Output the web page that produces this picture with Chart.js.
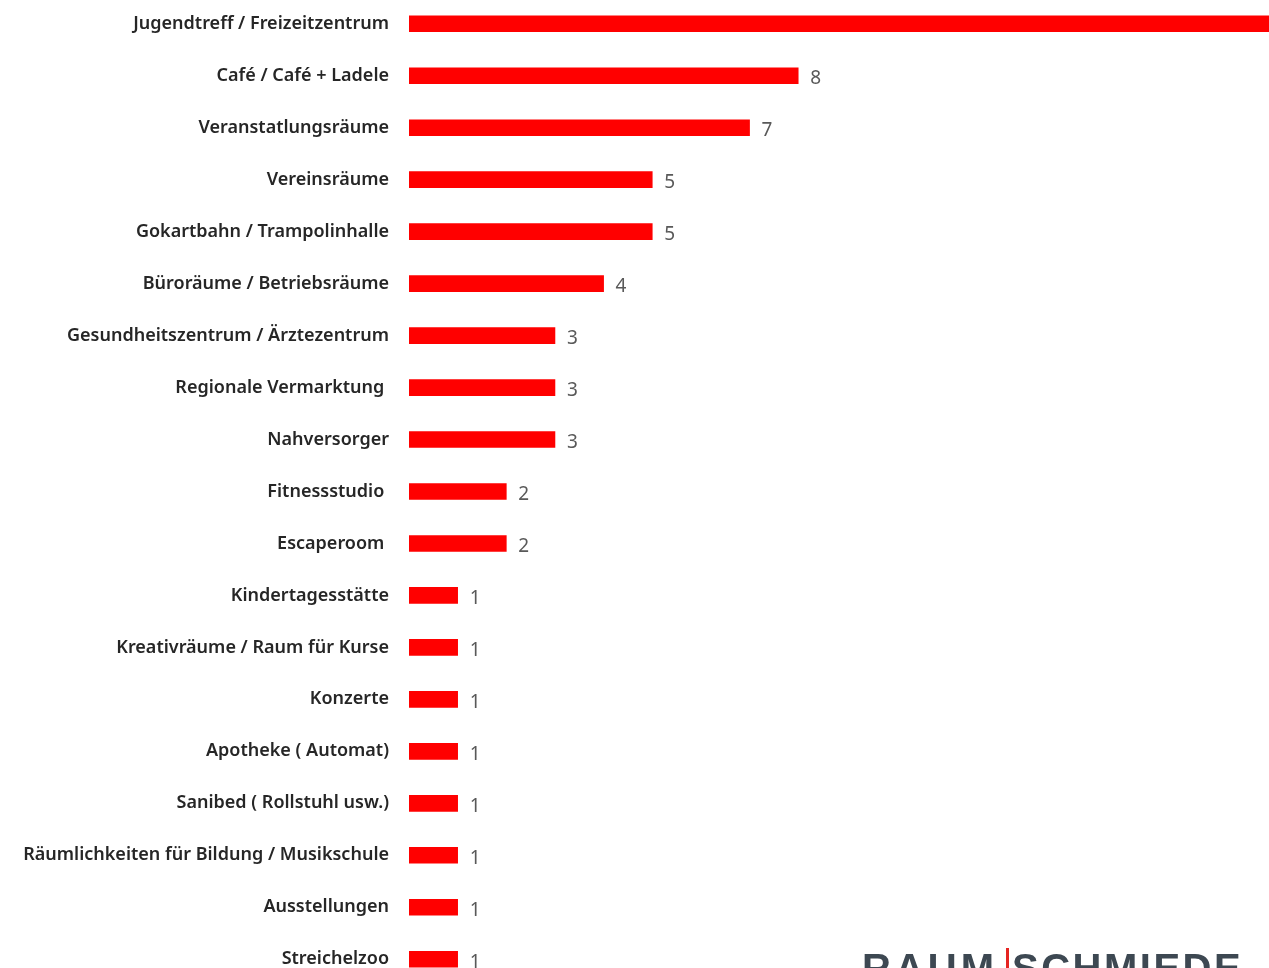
<!DOCTYPE html>
<html>
<head>
<meta charset="utf-8">
<script src="https://cdn.jsdelivr.net/npm/chart.js@4.4.1/dist/chart.umd.min.js"></script>
<style>
  html, body { margin:0; padding:0; background:#fff; width:1269px; height:968px; overflow:hidden; position:relative; }
  #wrap { position:absolute; left:0; top:-33px; width:1382px; height:1049px; }
  .logo { position:absolute; font-family:"Liberation Sans", Arial, sans-serif; font-weight:bold; font-size:40px; line-height:40px; color:#3d4852; white-space:nowrap; letter-spacing:2.5px; }
  #bar { position:absolute; left:1006px; top:948px; width:3px; height:30px; background:#e52421; }
</style>
</head>
<body>
<div id="wrap"><canvas id="c"></canvas></div>
<div class="logo" style="left:862px; top:948px; letter-spacing:4px;">RAUM</div>
<div id="bar"></div>
<div class="logo" style="left:1012px; top:948px;">SCHMIEDE</div>
<script>
const categories = [
  "Jugendtreff / Freizeitzentrum",
  "Café / Café + Ladele",
  "Veranstatlungsräume",
  "Vereinsräume",
  "Gokartbahn / Trampolinhalle",
  "Büroräume / Betriebsräume",
  "Gesundheitszentrum / Ärztezentrum",
  "Regionale Vermarktung ",
  "Nahversorger",
  "Fitnessstudio ",
  "Escaperoom ",
  "Kindertagesstätte",
  "Kreativräume / Raum für Kurse",
  "Konzerte",
  "Apotheke ( Automat)",
  "Sanibed ( Rollstuhl usw.)",
  "Räumlichkeiten für Bildung / Musikschule",
  "Ausstellungen",
  "Streichelzoo"
];
const counts = [18, 8, 7, 5, 5, 4, 3, 3, 3, 2, 2, 1, 1, 1, 1, 1, 1, 1, 1];
const axisMax = 20;

const valueLabels = {
  id: 'valueLabels',
  afterDatasetsDraw(chart) {
    const ctx = chart.ctx;
    const meta = chart.getDatasetMeta(0);
    ctx.save();
    ctx.font = '19px "Noto Sans", sans-serif';
    ctx.fillStyle = '#595959';
    ctx.textAlign = 'left';
    ctx.textBaseline = 'alphabetic';
    meta.data.forEach((el, i) => {
      ctx.fillText(String(counts[i]), el.x + 12, el.y + 8.5);
    });
    ctx.restore();
  }
};

new Chart(document.getElementById('c'), {
  type: 'bar',
  data: {
    labels: categories,
    datasets: [{
      data: counts,
      backgroundColor: '#ff0000',
      barThickness: 16,
      borderWidth: 0
    }]
  },
  options: {
    indexAxis: 'y',
    responsive: true,
    maintainAspectRatio: false,
    animation: false,
    layout: { padding: 0 },
    plugins: { legend: { display: false }, tooltip: { enabled: false } },
    scales: {
      x: { display: false, min: 0, max: axisMax },
      y: {
        afterFit(scale) { scale.width = 409; },
        grid: { display: false, drawTicks: false },
        border: { display: false },
        ticks: {
          padding: 20,
          color: '#262626',
          font: { family: '"Noto Sans", sans-serif', size: 18, weight: '600' },
          autoSkip: false
        }
      }
    }
  },
  plugins: [valueLabels]
});
</script>
</body>
</html>
